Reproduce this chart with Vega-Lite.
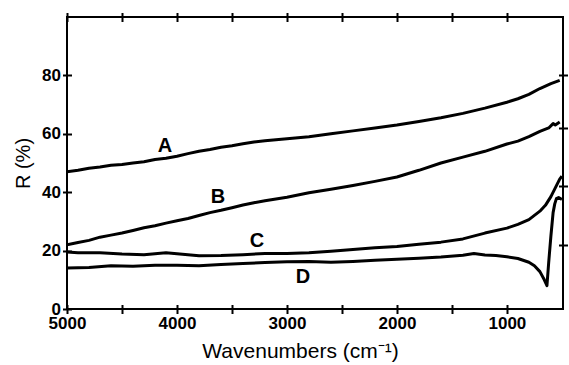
{
  "$schema": "https://vega.github.io/schema/vega-lite/v6.json",
  "width": 496,
  "height": 292,
  "autosize": {"type": "none"},
  "padding": {"left": 67, "top": 17, "right": 6, "bottom": 56},
  "background": "white",
  "config": {
    "view": {"stroke": "black", "strokeWidth": 2},
    "font": "Liberation Sans",
    "axis": {
      "domain": false,
      "grid": false,
      "tickColor": "black",
      "tickWidth": 2,
      "tickSize": 9,
      "offset": -4.5,
      "labelColor": "black",
      "labelFont": "Liberation Sans",
      "labelFontSize": 17,
      "labelFontWeight": "bold",
      "titleColor": "black",
      "titleFont": "Liberation Sans",
      "titleFontWeight": "normal"
    }
  },
  "datasets": {
    "curves": [
      {"wn": 5000, "r": 47, "s": "A"}, {"wn": 4900, "r": 47.5, "s": "A"}, {"wn": 4800, "r": 48.2, "s": "A"}, {"wn": 4700, "r": 48.6, "s": "A"}, {"wn": 4600, "r": 49.2, "s": "A"}, {"wn": 4500, "r": 49.5, "s": "A"}, {"wn": 4400, "r": 50, "s": "A"}, {"wn": 4300, "r": 50.4, "s": "A"}, {"wn": 4200, "r": 51.2, "s": "A"}, {"wn": 4100, "r": 51.6, "s": "A"}, {"wn": 4000, "r": 52.3, "s": "A"}, {"wn": 3900, "r": 53.2, "s": "A"}, {"wn": 3800, "r": 54, "s": "A"}, {"wn": 3700, "r": 54.6, "s": "A"}, {"wn": 3600, "r": 55.4, "s": "A"}, {"wn": 3500, "r": 55.9, "s": "A"}, {"wn": 3400, "r": 56.6, "s": "A"}, {"wn": 3300, "r": 57.2, "s": "A"}, {"wn": 3200, "r": 57.6, "s": "A"}, {"wn": 3100, "r": 58, "s": "A"}, {"wn": 3000, "r": 58.3, "s": "A"}, {"wn": 2800, "r": 59, "s": "A"}, {"wn": 2600, "r": 60, "s": "A"}, {"wn": 2400, "r": 61, "s": "A"}, {"wn": 2200, "r": 62, "s": "A"}, {"wn": 2000, "r": 63, "s": "A"}, {"wn": 1800, "r": 64.2, "s": "A"}, {"wn": 1600, "r": 65.5, "s": "A"}, {"wn": 1400, "r": 67, "s": "A"}, {"wn": 1200, "r": 68.8, "s": "A"}, {"wn": 1000, "r": 70.8, "s": "A"}, {"wn": 900, "r": 72, "s": "A"}, {"wn": 800, "r": 73.5, "s": "A"}, {"wn": 700, "r": 75.5, "s": "A"}, {"wn": 600, "r": 77.2, "s": "A"}, {"wn": 520, "r": 78.3, "s": "A"},
      {"wn": 5000, "r": 22, "s": "B"}, {"wn": 4900, "r": 22.8, "s": "B"}, {"wn": 4800, "r": 23.5, "s": "B"}, {"wn": 4700, "r": 24.6, "s": "B"}, {"wn": 4600, "r": 25.3, "s": "B"}, {"wn": 4500, "r": 26, "s": "B"}, {"wn": 4400, "r": 26.9, "s": "B"}, {"wn": 4300, "r": 27.8, "s": "B"}, {"wn": 4200, "r": 28.5, "s": "B"}, {"wn": 4100, "r": 29.4, "s": "B"}, {"wn": 4000, "r": 30.2, "s": "B"}, {"wn": 3900, "r": 31, "s": "B"}, {"wn": 3800, "r": 32, "s": "B"}, {"wn": 3700, "r": 33, "s": "B"}, {"wn": 3600, "r": 33.8, "s": "B"}, {"wn": 3500, "r": 34.7, "s": "B"}, {"wn": 3400, "r": 35.6, "s": "B"}, {"wn": 3300, "r": 36.4, "s": "B"}, {"wn": 3200, "r": 37.1, "s": "B"}, {"wn": 3100, "r": 37.7, "s": "B"}, {"wn": 3000, "r": 38.3, "s": "B"}, {"wn": 2800, "r": 39.8, "s": "B"}, {"wn": 2600, "r": 41, "s": "B"}, {"wn": 2400, "r": 42.3, "s": "B"}, {"wn": 2200, "r": 43.7, "s": "B"}, {"wn": 2000, "r": 45.2, "s": "B"}, {"wn": 1800, "r": 47.5, "s": "B"}, {"wn": 1600, "r": 50, "s": "B"}, {"wn": 1400, "r": 52, "s": "B"}, {"wn": 1200, "r": 54, "s": "B"}, {"wn": 1000, "r": 56.5, "s": "B"}, {"wn": 900, "r": 57.5, "s": "B"}, {"wn": 800, "r": 59, "s": "B"}, {"wn": 700, "r": 60.8, "s": "B"}, {"wn": 620, "r": 62, "s": "B"}, {"wn": 580, "r": 63.5, "s": "B"}, {"wn": 560, "r": 63, "s": "B"}, {"wn": 520, "r": 64, "s": "B"},
      {"wn": 5000, "r": 19.5, "s": "C"}, {"wn": 4900, "r": 19.3, "s": "C"}, {"wn": 4700, "r": 19.3, "s": "C"}, {"wn": 4500, "r": 18.8, "s": "C"}, {"wn": 4300, "r": 18.6, "s": "C"}, {"wn": 4100, "r": 19.3, "s": "C"}, {"wn": 4000, "r": 18.9, "s": "C"}, {"wn": 3800, "r": 18.2, "s": "C"}, {"wn": 3600, "r": 18.3, "s": "C"}, {"wn": 3400, "r": 18.6, "s": "C"}, {"wn": 3200, "r": 19, "s": "C"}, {"wn": 3000, "r": 19, "s": "C"}, {"wn": 2800, "r": 19.3, "s": "C"}, {"wn": 2600, "r": 19.8, "s": "C"}, {"wn": 2400, "r": 20.4, "s": "C"}, {"wn": 2200, "r": 21, "s": "C"}, {"wn": 2000, "r": 21.4, "s": "C"}, {"wn": 1800, "r": 22.2, "s": "C"}, {"wn": 1600, "r": 22.9, "s": "C"}, {"wn": 1400, "r": 24, "s": "C"}, {"wn": 1200, "r": 26, "s": "C"}, {"wn": 1000, "r": 27.7, "s": "C"}, {"wn": 900, "r": 29, "s": "C"}, {"wn": 800, "r": 30.6, "s": "C"}, {"wn": 700, "r": 33.5, "s": "C"}, {"wn": 650, "r": 35.5, "s": "C"}, {"wn": 600, "r": 38.5, "s": "C"}, {"wn": 560, "r": 41.5, "s": "C"}, {"wn": 520, "r": 44.5, "s": "C"}, {"wn": 500, "r": 45.5, "s": "C"},
      {"wn": 5000, "r": 14, "s": "D"}, {"wn": 4800, "r": 14.2, "s": "D"}, {"wn": 4600, "r": 14.8, "s": "D"}, {"wn": 4400, "r": 14.6, "s": "D"}, {"wn": 4200, "r": 15, "s": "D"}, {"wn": 4000, "r": 15, "s": "D"}, {"wn": 3800, "r": 14.8, "s": "D"}, {"wn": 3600, "r": 15.2, "s": "D"}, {"wn": 3400, "r": 15.6, "s": "D"}, {"wn": 3200, "r": 15.9, "s": "D"}, {"wn": 3000, "r": 16.2, "s": "D"}, {"wn": 2800, "r": 16.3, "s": "D"}, {"wn": 2600, "r": 16, "s": "D"}, {"wn": 2400, "r": 16.3, "s": "D"}, {"wn": 2200, "r": 16.7, "s": "D"}, {"wn": 2000, "r": 17, "s": "D"}, {"wn": 1800, "r": 17.4, "s": "D"}, {"wn": 1600, "r": 17.8, "s": "D"}, {"wn": 1400, "r": 18.4, "s": "D"}, {"wn": 1300, "r": 19, "s": "D"}, {"wn": 1200, "r": 18.5, "s": "D"}, {"wn": 1100, "r": 18.3, "s": "D"}, {"wn": 1000, "r": 17.9, "s": "D"}, {"wn": 900, "r": 17.3, "s": "D"}, {"wn": 800, "r": 16, "s": "D"}, {"wn": 750, "r": 14.8, "s": "D"}, {"wn": 700, "r": 12.8, "s": "D"}, {"wn": 660, "r": 10, "s": "D"}, {"wn": 636, "r": 8, "s": "D"}, {"wn": 620, "r": 16, "s": "D"}, {"wn": 600, "r": 25, "s": "D"}, {"wn": 580, "r": 33, "s": "D"}, {"wn": 565, "r": 36, "s": "D"}, {"wn": 550, "r": 37.8, "s": "D"}, {"wn": 530, "r": 38.2, "s": "D"}, {"wn": 500, "r": 37.5, "s": "D"}
    ],
    "labels": [
      {"wn": 4109, "r": 55.8, "s": "A"},
      {"wn": 3627, "r": 38.3, "s": "B"},
      {"wn": 3273, "r": 23.3, "s": "C"},
      {"wn": 2855, "r": 10.8, "s": "D"}
    ]
  },
  "layer": [
    {
      "data": {"name": "curves"},
      "mark": {"type": "line", "color": "black", "strokeWidth": 3, "strokeJoin": "round", "clip": true},
      "encoding": {
        "x": {
          "field": "wn", "type": "quantitative",
          "scale": {"domain": [490, 5000], "reverse": true, "nice": false, "zero": false},
          "axis": {
            "orient": "bottom",
            "title": "Wavenumbers (cm⁻¹)",
            "titleFontSize": 21,
            "titlePadding": 9,
            "titleX": 233,
            "values": [1000, 1500, 2000, 2500, 3000, 3500, 4000, 4500, 5000],
            "format": "d",
            "labelExpr": "datum.value % 1000 === 0 ? datum.label : ''",
            "labelPadding": 2,
            "labelFlush": false,
            "labelOverlap": false
          }
        },
        "y": {
          "field": "r", "type": "quantitative",
          "scale": {"domain": [0, 100], "nice": false},
          "axis": {
            "orient": "left",
            "title": "R (%)",
            "titleFontSize": 20,
            "titlePadding": 8,
            "values": [0, 20, 40, 60, 80],
            "labelPadding": 2
          }
        },
        "detail": {"field": "s"}
      }
    },
    {
      "data": {"name": "labels"},
      "mark": {"type": "text", "color": "black", "fontSize": 20, "fontWeight": "bold", "font": "Liberation Sans"},
      "encoding": {
        "x": {
          "field": "wn", "type": "quantitative",
          "axis": {
            "orient": "top",
            "title": null,
            "labels": false,
            "values": [1000, 1500, 2000, 2500, 3000, 3500, 4000, 4500, 5000]
          }
        },
        "y": {
          "field": "r", "type": "quantitative",
          "axis": {
            "orient": "right",
            "title": null,
            "labels": false,
            "values": [22, 42, 62, 80]
          }
        },
        "text": {"field": "s"}
      }
    }
  ],
  "resolve": {"axis": {"x": "independent", "y": "independent"}}
}
